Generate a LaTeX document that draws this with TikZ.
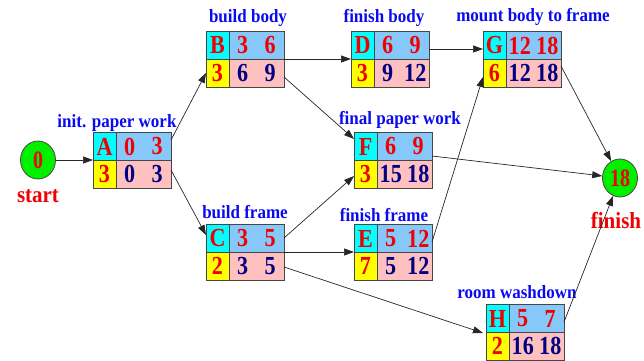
\documentclass[tikz,border=0pt]{standalone}
\usepackage{fontspec}
\setmainfont{Liberation Serif}
\usetikzlibrary{arrows.meta,calc,shapes.geometric}
\definecolor{cyanc}{RGB}{0,255,255}
\definecolor{bluec}{RGB}{135,200,250}
\definecolor{yellowc}{RGB}{255,255,0}
\definecolor{pinkc}{RGB}{255,192,192}
\definecolor{redc}{RGB}{240,0,0}
\definecolor{navyc}{RGB}{0,0,128}
\definecolor{labelc}{RGB}{10,10,240}
\definecolor{greenc}{RGB}{0,240,0}
\definecolor{borderc}{RGB}{70,70,70}
\tikzset{
  cellline/.style={draw=borderc,line width=0.9pt},
  boxanchor/.style={rectangle,minimum width=78pt,minimum height=56pt,inner sep=0pt,outer sep=0pt},
  redtxt/.style={text=redc,font=\fontsize{26}{26}\selectfont\bfseries,inner sep=0pt,xscale=0.85},
  navytxt/.style={text=navyc,font=\fontsize{26}{26}\selectfont\bfseries,inner sep=0pt,xscale=0.85},
  lbl/.style={text=labelc,font=\fontsize{17}{17}\selectfont\bfseries,inner sep=0pt,yscale=1.1},
  evt/.style={ellipse,draw=borderc,line width=0.8pt,fill=greenc,minimum width=35pt,minimum height=38pt,inner sep=0pt},
  evttxt/.style={text=redc,font=\fontsize{25}{25}\selectfont\bfseries,inner sep=0pt,xscale=0.8},
  evtlbl/.style={text=redc,font=\fontsize{21}{21}\selectfont\bfseries,inner sep=0pt,yscale=1.1},
  conn/.style={draw=black!85,line width=0.7pt,-{Triangle[length=10pt,width=7pt]}},
}
% name, x, y (top-left), letter, es, ef, dur, ls, lf
\newcommand\actbox[9]{%
  \fill[cyanc] (#2,#3) rectangle ++(23,28);
  \fill[bluec] (#2+23,#3) rectangle ++(55,28);
  \fill[yellowc] (#2,#3+28) rectangle ++(23,28);
  \fill[pinkc] (#2+23,#3+28) rectangle ++(55,28);
  \draw[cellline] (#2,#3) rectangle ++(78,56) (#2+23,#3) -- ++(0,56) (#2,#3+28) -- ++(78,0);
  \node[boxanchor] (#1) at (#2+39,#3+28) {};
  \node[redtxt] (#1-l) at (#2+11.5,#3+14.5) {#4};
  \node[redtxt] (#1-es) at (#2+36.75,#3+14.5) {#5};
  \node[redtxt] (#1-ef) at (#2+64.25,#3+14.5) {#6};
  \node[redtxt] (#1-d) at (#2+11.5,#3+42) {#7};
  \node[navytxt] (#1-ls) at (#2+36.75,#3+42) {#8};
  \node[navytxt] (#1-lf) at (#2+64.25,#3+42) {#9};
}
\begin{document}
\begin{tikzpicture}[x=1pt,y=-1pt]
\useasboundingbox (0,0) rectangle (644,360);
\actbox{A}{93}{132}{A}{0}{3}{3}{0}{3}
\actbox{B}{206}{31}{B}{3}{6}{3}{6}{9}
\actbox{C}{206}{224}{C}{3}{5}{2}{3}{5}
\actbox{D}{351}{31}{D}{6}{9}{3}{9}{12}
\actbox{F}{354}{132}{F}{6}{9}{3}{15}{18}
\actbox{E}{354}{224}{E}{5}{12}{7}{5}{12}
\actbox{G}{483}{31}{G}{12}{18}{6}{12}{18}
\actbox{H}{486}{304}{H}{5}{7}{2}{16}{18}
\node[evt] (st) at (38,160) {};
\node[evttxt] (stt) at (38,160) {0};
\node[evtlbl] (stl) at (38,196) {start};
\node[evt] (fin) at (620,178) {};
\node[evttxt] (fint) at (620,178) {18};
\node[evtlbl] (finl) at (616,220) {finish};
\node[lbl] (Al) at (117,123) {init. paper work};
\node[lbl] (Bl) at (248,18) {build body};
\node[lbl] (Dl) at (384,18) {finish body};
\node[lbl] (Gl) at (533,17) {mount body to frame};
\node[lbl] (Cl) at (245,212) {build frame};
\node[lbl] (Fl) at (400,120) {final paper work};
\node[lbl] (El) at (384,215) {finish frame};
\node[lbl] (Hl) at (517,292) {room washdown};
\draw[conn] (st) -- (A.west);
\draw[conn] ($(A.north east)+(0,8)$) -- ($(B.south west)+(0,-14)$);
\draw[conn] ($(A.north east)+(0,38)$) -- ($(C.north west)+(0,11)$);
\draw[conn] (B.east) -- (D.west);
\draw[conn] ($(B.north east)+(0,46)$) -- ($(F.north west)+(0,7)$);
\draw[conn] ($(D.north east)+(0,18)$) -- ($(G.north west)+(0,18)$);
\draw[conn] ($(C.north east)+(0,14)$) -- ($(F.north west)+(0,44)$);
\draw[conn] (C.east) -- (E.west);
\draw[conn] ($(C.north east)+(0,43)$) -- ($(H.north west)+(-3,29)$);
\draw[conn] ($(F.north east)+(0,24)$) -- (fin);
\draw[conn] ($(E.north east)+(0,18)$) -- ($(G.south west)+(0,-10)$);
\draw[conn] ($(G.north east)+(0,35)$) -- (fin);
\draw[conn] ($(H.north east)+(0,18)$) -- (fin);
\end{tikzpicture}
\end{document}
